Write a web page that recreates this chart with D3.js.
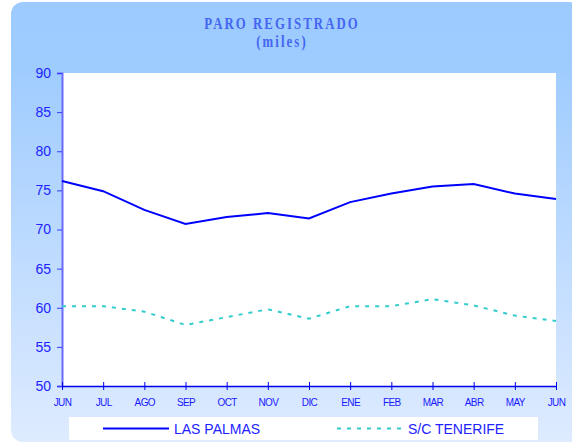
<!DOCTYPE html>
<html>
<head>
<meta charset="utf-8">
<script src="https://cdn.jsdelivr.net/npm/d3@7"></script>
<style>
  body { margin: 0; background: #fff; }
  svg { display: block; }
</style>
</head>
<body>
<div id="chart"></div>
<script>
// data
var months = ["JUN", "JUL", "AGO", "SEP", "OCT", "NOV", "DIC", "ENE", "FEB", "MAR", "ABR", "MAY", "JUN"];
var lasPalmas = [76.2, 74.9, 72.5, 70.7, 71.6, 72.1, 71.4, 73.5, 74.6, 75.5, 75.8, 74.6, 73.9];
var tenerife = [60.2, 60.2, 59.5, 57.8, 58.8, 59.8, 58.6, 60.2, 60.2, 61.1, 60.3, 59.0, 58.3];
var yTicks = [50, 55, 60, 65, 70, 75, 80, 85, 90];

var width = 572, height = 443;
var margin = { top: 73, right: 16, bottom: 58, left: 62 };
var chartWidth = width - margin.left - margin.right;
var chartHeight = height - margin.top - margin.bottom + 1;

var svg = d3.select("#chart").append("svg")
    .attr("width", width)
    .attr("height", height);

var defs = svg.append("defs");
var grad = defs.append("linearGradient")
    .attr("id", "bg").attr("x1", 0).attr("y1", 0).attr("x2", 0).attr("y2", 1);
grad.append("stop").attr("offset", "0%").attr("stop-color", "#9dcbff");
grad.append("stop").attr("offset", "15%").attr("stop-color", "#9fccff");
grad.append("stop").attr("offset", "100%").attr("stop-color", "#deebff");

// panel
svg.append("rect")
    .attr("x", 11).attr("y", 2)
    .attr("width", 570).attr("height", 440)
    .attr("rx", 12)
    .attr("fill", "url(#bg)");

// title (narrow bold serif, spaced out)
function titleLine(txt, y) {
  svg.append("text")
      .attr("transform", `translate(282, ${y}) scale(0.8, 1)`)
      .attr("text-anchor", "middle")
      .style("font-family", "'Liberation Serif', 'Times New Roman', serif")
      .style("font-weight", "bold")
      .style("font-size", "16px")
      .style("letter-spacing", "2.6px")
      .attr("fill", "#4466f0")
      .text(txt);
}
titleLine("PARO REGISTRADO", 29);
titleLine("(miles)", 47);

var chartGroup = svg.append("g")
    .attr("transform", `translate(${margin.left}, ${margin.top})`);

var xScale = d3.scalePoint()
    .domain(d3.range(months.length))
    .range([0, chartWidth]);

var yScale = d3.scaleLinear()
    .domain([50, 90])
    .range([chartHeight, 0]);

// white plot area
chartGroup.append("rect")
    .attr("x", 0).attr("y", 0)
    .attr("width", chartWidth).attr("height", chartHeight)
    .attr("fill", "#fff");

// y axis
var yAxis = d3.axisLeft(yScale).tickValues(yTicks).tickSize(5).tickPadding(6);
var yg = chartGroup.append("g").call(yAxis);
yg.select(".domain").attr("stroke", "#6a6aff").attr("stroke-width", 2);
yg.selectAll(".tick line").attr("stroke", "#3a3aff");
yg.selectAll(".tick text")
    .attr("fill", "#2222ff")
    .style("font-family", "'Liberation Sans', Arial, sans-serif")
    .style("font-size", "14px");

// x axis
var xAxis = d3.axisBottom(xScale)
    .tickFormat(function(i) { return months[i]; })
    .tickSizeInner(4).tickSizeOuter(0).tickPadding(9);
var xg = chartGroup.append("g")
    .attr("transform", `translate(0, ${chartHeight})`)
    .call(xAxis);
xg.select(".domain").attr("stroke", "#0000ee").attr("stroke-width", 1.5);
xg.selectAll(".tick line").attr("stroke", "#0000ee").attr("y1", -4);
xg.selectAll(".tick text")
    .attr("fill", "#1a1aff")
    .style("font-family", "'Liberation Sans', Arial, sans-serif")
    .style("font-size", "10px")
    .style("letter-spacing", "-0.6px");

var line = d3.line()
    .x(function(d, i) { return xScale(i); })
    .y(function(d) { return yScale(d); });

chartGroup.append("path")
    .datum(tenerife)
    .attr("d", line)
    .attr("fill", "none")
    .attr("stroke", "#33cccc")
    .attr("stroke-width", 2)
    .attr("stroke-dasharray", "4,6");

chartGroup.append("path")
    .datum(lasPalmas)
    .attr("d", line)
    .attr("fill", "none")
    .attr("stroke", "#0000ff")
    .attr("stroke-width", 2);

// legend
var legend = svg.append("g");
legend.append("rect")
    .attr("x", 69).attr("y", 417)
    .attr("width", 469).attr("height", 23)
    .attr("fill", "#fff");

var legendItems = [
  { name: "LAS PALMAS", color: "#0000ff", dash: null, x: 103 },
  { name: "S/C TENERIFE", color: "#33cccc", dash: "4,6", x: 337 }
];
legendItems.forEach(function(item) {
  legend.append("line")
      .attr("x1", item.x).attr("x2", item.x + 66)
      .attr("y1", 428.5).attr("y2", 428.5)
      .attr("stroke", item.color)
      .attr("stroke-width", 2)
      .attr("stroke-dasharray", item.dash);
  legend.append("text")
      .attr("x", item.x + 71).attr("y", 433.5)
      .attr("fill", "#2222ff")
      .style("font-family", "'Liberation Sans', Arial, sans-serif")
      .style("font-size", "14px")
      .text(item.name);
});
</script>
</body>
</html>
